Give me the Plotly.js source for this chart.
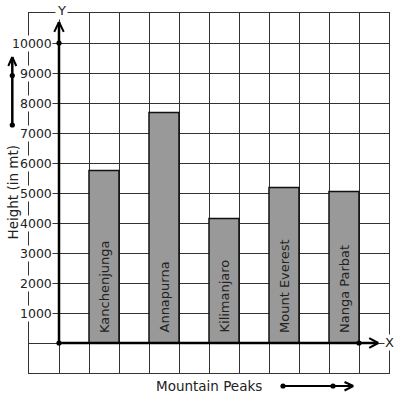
<!DOCTYPE html>
<html>
<head>
<meta charset="utf-8">
<script src="https://cdn.plot.ly/plotly-3.0.1.min.js"></script>
<style>html,body{margin:0;padding:0;background:#fff;}#chart{width:397px;height:399px;}</style>
</head>
<body>
<div id="chart"></div>
<script>
// ---- data ----
var peaks = ['Kanchenjunga', 'Annapurna', 'Kilimanjaro', 'Mount Everest', 'Nanga Parbat'];
var heights = [5750, 7680, 4150, 5180, 5050];
var yTickValues = [1000, 2000, 3000, 4000, 5000, 6000, 7000, 8000, 9000, 10000];
var yTickLabels = ['1000', '2000', '3000', '4000', '5000', '6000', '7000', '8000', '9000', '10000'];
var xTitle = 'Mountain Peaks';
var yTitle = 'Height (in mt)';

// ---- layout helpers ----
var W = 397, H = 399, ML = 29, MR = 8, MT = 13, MB = 26;
var PW = W - ML - MR, PH = H - MT - MB;
function px(x) { return (x - ML) / PW; }
function py(y) { return (H - MB - y) / PH; }
var FONT = 'DejaVu Sans, Verdana, sans-serif';
var INK = '#222';

var xPos = peaks.map(function (_, i) { return 1.5 + 2 * i; });

var trace = {
  type: 'bar',
  x: xPos,
  y: heights,
  width: 1,
  marker: { color: '#999999', line: { color: '#111', width: 1.5 } },
  hoverinfo: 'none'
};

var shapes = [];
function seg(x0, y0, x1, y1, w, ref) {
  shapes.push({ type: 'line', xref: ref || 'x', yref: ref || 'y', x0: x0, y0: y0, x1: x1, y1: y1,
    line: { color: '#000', width: w }, layer: 'above' });
}
function dot(x, y, r, ref) {
  var rx, ry;
  if (ref === 'paper') { rx = r / PW; ry = r / PH; } else { rx = r / 30; ry = r / 30 * 1000; }
  shapes.push({ type: 'circle', xref: ref || 'x', yref: ref || 'y', x0: x - rx, x1: x + rx, y0: y - ry, y1: y + ry,
    fillcolor: '#000', line: { color: '#000', width: 0 }, layer: 'above' });
}
// y axis with arrow
seg(0, 0, 0, 10700, 2.5);
seg(-0.158, 10370, 0, 10700, 2);
seg(0.158, 10370, 0, 10700, 2);
// x axis with arrow
seg(0, 0, 10.64, 0, 2.5);
seg(10.34, 160, 10.64, 0, 2);
seg(10.34, -160, 10.64, 0, 2);
dot(0, 0, 2.6);
dot(0, 10000, 2.6);
dot(10, 0, 2.6);

// left side arrow (paper)
seg(px(12.3), py(125), px(12.3), py(57), 2.5, 'paper');
seg(px(8.3), py(66), px(12.3), py(57), 2, 'paper');
seg(px(16.3), py(66), px(12.3), py(57), 2, 'paper');
dot(px(12.3), py(125), 2.6, 'paper');
dot(px(12.3), py(75.5), 2.6, 'paper');
// bottom arrow (paper)
seg(px(283), py(386), px(353), py(386), 2, 'paper');
seg(px(344.5), py(382), px(353.3), py(386), 2, 'paper');
seg(px(344.5), py(390.5), px(353.3), py(386), 2, 'paper');
dot(px(283), py(386), 2.6, 'paper');
dot(px(333), py(386), 2.6, 'paper');

var annotations = [];
yTickValues.forEach(function (v, i) {
  annotations.push({ xref: 'x', yref: 'y', x: 0, y: v, xanchor: 'right', yanchor: 'middle', xshift: -6,
    text: yTickLabels[i], showarrow: false, bgcolor: '#fff', borderpad: 0,
    font: { family: FONT, size: 12.5, color: INK } });
});
peaks.forEach(function (name, i) {
  annotations.push({ xref: 'x', yref: 'y', x: xPos[i], y: 0, yshift: 8, xanchor: 'center', yanchor: 'bottom',
    text: name, textangle: -90, showarrow: false,
    font: { family: FONT, size: 13, color: INK } });
});
annotations.push({ xref: 'paper', yref: 'paper', x: px(61), y: py(10), xanchor: 'center', yanchor: 'middle',
  text: 'Y', showarrow: false, bgcolor: '#fff', borderpad: 1, font: { family: FONT, size: 13, color: INK } });
annotations.push({ xref: 'paper', yref: 'paper', x: px(389), y: py(342), xanchor: 'center', yanchor: 'middle',
  text: 'X', showarrow: false, bgcolor: '#fff', borderpad: 0, font: { family: FONT, size: 13, color: INK } });
annotations.push({ xref: 'paper', yref: 'paper', x: px(208.5), y: py(386), xanchor: 'center', yanchor: 'middle',
  text: xTitle, showarrow: false, font: { family: FONT, size: 13.5, color: INK } });
annotations.push({ xref: 'paper', yref: 'paper', x: px(12), y: py(192.5), xanchor: 'center', yanchor: 'middle',
  text: yTitle, textangle: -90, showarrow: false, font: { family: FONT, size: 13.5, color: INK } });

var layout = {
  width: W, height: H,
  margin: { l: ML, r: MR, t: MT, b: MB, pad: 0 },
  paper_bgcolor: '#fff', plot_bgcolor: '#fff',
  showlegend: false,
  xaxis: { range: [-1, 11], tick0: -1, dtick: 1, showgrid: true, gridcolor: '#333', gridwidth: 1,
    zeroline: false, showticklabels: false, ticks: '', showline: true, mirror: true, linecolor: '#333', linewidth: 1,
    fixedrange: true },
  yaxis: { range: [-1000, 11000], tick0: 0, dtick: 1000, showgrid: true, gridcolor: '#333', gridwidth: 1,
    zeroline: false, showticklabels: false, ticks: '', showline: true, mirror: true, linecolor: '#333', linewidth: 1,
    fixedrange: true },
  shapes: shapes,
  annotations: annotations
};

Plotly.newPlot('chart', [trace], layout, { displayModeBar: false, staticPlot: true });
</script>
</body>
</html>
